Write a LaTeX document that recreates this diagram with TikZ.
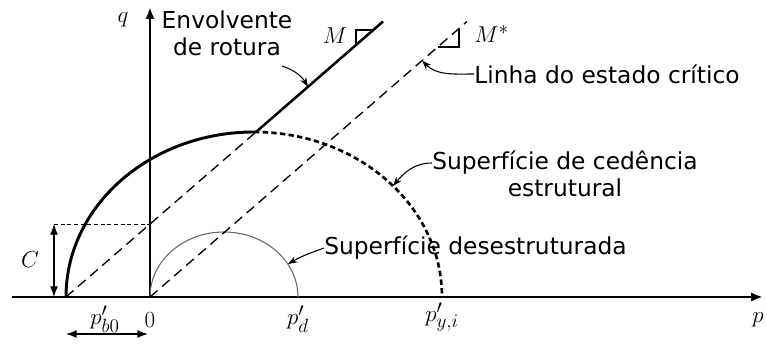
\documentclass[tikz,border=0pt]{standalone}
\usepackage{fontspec}
\newfontfamily\labelfont{DejaVu Sans}
\usetikzlibrary{arrows.meta}

\begin{document}
\begin{tikzpicture}[x=0.75pt, y=0.75pt,
    txt/.style={font=\labelfont\fontsize{17.5}{20.5}\selectfont, align=center, inner sep=0pt},
    mth/.style={font=\fontsize{19}{22}\selectfont, inner sep=0pt},
    axis/.style={line width=2.2pt, -{Latex[length=9pt, width=7pt]}},
    pointer/.style={line width=0.8pt, -{Stealth[length=7pt, width=5pt]}},
    dashline/.style={line width=1pt, dash pattern=on 7.5pt off 4.5pt}]
    \def\a{188}
    \def\b{165}
    \def\s{0.869}
    \def\w{2.2pt}
    \useasboundingbox (-150,-46) rectangle (617,297);

    % axes
    \coordinate (O) at (0,0);
    \coordinate (pstart) at (-138,0);
    \coordinate (pend) at (613,0);
    \coordinate (qend) at (0,290);
    \draw[axis] (pstart) -- (pend);
    \draw[axis] (O) -- (qend);

    % yield surfaces
    \coordinate (pb) at (-84,0);
    \draw[line width=\w] (pb) arc[start angle=180, end angle=90, x radius=\a, y radius=\b] coordinate (top);
    \draw[line width=2pt, dash pattern=on 4pt off 2.5pt] (top) arc[start angle=90, end angle=0, x radius=\a, y radius=\b] coordinate (py);
    \draw[black!60, line width=0.8pt] (O) arc[start angle=180, end angle=0, x radius=74, y radius=65] coordinate (pd);

    % envelope and critical state line
    \coordinate (env) at (106,165);
    \coordinate (envtop) at (233,{\s*(233+84)});
    \coordinate (csl) at (317,{\s*317});
    \draw[dashline] (pb) -- (env);
    \draw[line width=1.9pt] (env) -- (envtop);
    \draw[dashline] (O) -- (csl);
    \draw[line width=0.8pt] (206,{\s*(206+84)}) |- (223,267);
    \draw[line width=0.8pt] (288,250) -| (309,{\s*309});

    % C
    \coordinate (C) at (0,73);
    \coordinate (Cl) at (-96,73);
    \coordinate (Cb) at (-96,0);
    \draw[line width=0.7pt, dash pattern=on 3pt off 2pt] (Cl) -- (C);
    \draw[line width=1pt, {Latex[length=8pt,width=6pt]}-{Latex[length=8pt,width=6pt]}] (Cb) -- (Cl);
    \coordinate (bl) at (-84,-37);
    \coordinate (br) at (-2,-37);
    \draw[line width=1pt, {Latex[length=8pt,width=6pt]}-{Latex[length=8pt,width=6pt]}] (bl) -- (br);

    % labels
    \node[mth] (qlab) at (-27,277) {$q$};
    \node[mth] (plab) at (608,-23) {$p$};
    \node[mth] (Clab) at (-120,37) {$C$};
    \node[mth] (pblab) at (-45,-22) {$p'_{b0}$};
    \node[mth] (zero) at (0,-23) {$0$};
    \node[mth] (pdlab) at (148,-22) {$p'_d$};
    \node[mth] (pylab) at (292,-20) {$p'_{y,i}$};
    \node[mth] (Mlab) at (185,261) {$M$};
    \node[mth, anchor=west] (Mslab) at (324,263) {$M^{*}$};

    \node[txt] (envlab) at (77,264) {Envolvente\\de rotura};
    \node[txt, anchor=west] (csllab) at (324,223) {Linha do estado crítico};
    \node[txt] (yslab) at (415,123) {Superfície de cedência\\estrutural};
    \node[txt, anchor=west] (dslab) at (174,49) {Superfície desestruturada};

    % pointers
    \coordinate (envpt) at (158,{\s*(158+84)});
    \coordinate (cslpt) at (272,{\s*272});
    \coordinate (yspt) at (243,111);
    \coordinate (dspt) at (138,33);
    \draw[pointer] (132,231) to[bend left=20] (envpt);
    \draw[pointer] (csllab.west) to[out=180, in=-45] (cslpt);
    \draw[pointer] (yslab.west |- 0,134) to[out=180, in=50] (yspt);
    \draw[pointer] (dslab.west) to[out=200, in=30] (dspt);
\end{tikzpicture}
\end{document}
